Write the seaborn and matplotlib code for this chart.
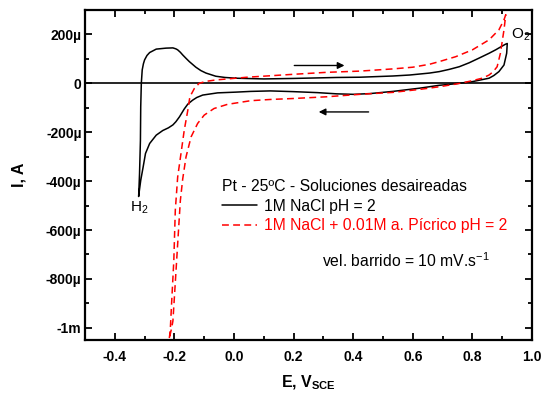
import numpy as np
import pandas as pd
import matplotlib
matplotlib.use("Agg")
import matplotlib.pyplot as plt
import seaborn as sns

# Cyclic voltammograms on Pt at 25 ºC: potential (V vs SCE) and current (µA)
e_nacl = [0.006, 0.1, 0.2, 0.345, 0.422, 0.533, 0.589, 0.656, 0.689, 0.722, 0.756, 0.789,
          0.822, 0.856, 0.878, 0.895, 0.911, 0.917,
          0.915, 0.906, 0.889, 0.872, 0.856, 0.8, 0.767, 0.733, 0.689, 0.622, 0.533, 0.456,
          0.40, 0.345, 0.28, 0.2, 0.122, 0.056, 0.006, -0.055, -0.105, -0.125, -0.139,
          -0.155, -0.167, -0.183, -0.195, -0.205, -0.22, -0.239, -0.261, -0.283, -0.297,
          -0.305, -0.313, -0.319, -0.320,
          -0.317, -0.314, -0.313, -0.311, -0.308, -0.304, -0.300, -0.292, -0.283, -0.261,
          -0.228, -0.205, -0.195, -0.189, -0.180, -0.172, -0.160, -0.150, -0.128, -0.111,
          -0.094, -0.061, -0.03, 0.006]
i_nacl = [21, 18, 20, 24, 25, 30, 34, 42, 48, 57, 68, 84,
          103, 123, 137, 149, 160, 163,
          123, 75, 48, 32, 21, 7, 2, -3, -8, -20, -33, -42,
          -45, -43, -38, -34, -31, -33, -36, -39, -48, -58, -69,
          -85, -105, -137, -157, -170, -182, -193, -212, -246, -287,
          -343, -397, -452, -463,
          -370, -233, -96, 0, 55, 80, 96, 114, 126, 140,
          144, 145, 141, 137, 127, 116, 101, 89, 66, 52,
          42, 29, 24, 21]

e_picrico = [-0.217, -0.214, -0.209, -0.202, -0.197, -0.189, -0.178, -0.167, -0.155, -0.148,
             -0.133, -0.117, -0.094, -0.06, -0.022, 0.044, 0.122, 0.2, 0.311, 0.422, 0.533,
             0.6, 0.656, 0.689, 0.744, 0.8, 0.856, 0.889, 0.906, 0.912,
             0.906, 0.9, 0.894, 0.883, 0.870, 0.856, 0.833, 0.8, 0.767, 0.744, 0.689, 0.622,
             0.533, 0.422, 0.311, 0.2, 0.122, 0.056, -0.022, -0.067, -0.1, -0.122, -0.144,
             -0.161, -0.172, -0.180, -0.189, -0.198, -0.205, -0.209, -0.217]
i_picrico = [-1042, -1013, -890, -726, -520, -383, -288, -192, -110, -55,
             -21, 0, 8, 14, 18, 25, 31, 37, 45, 50, 59,
             66, 78, 89, 109, 137, 178, 219, 260, 281,
             219, 171, 123, 68, 48, 34, 21, 11, 2, -3, -14, -25,
             -37, -45, -55, -62, -66, -71, -86, -103, -130, -164, -219,
             -301, -390, -479, -656, -835, -972, -1000, -1042]

label_nacl = "1M NaCl pH = 2"
label_picrico = "1M NaCl + 0.01M a. Pícrico pH = 2"
legend_title = "Pt - 25ºC - Soluciones desaireadas"

y_ticks = [-1e-3, -8e-4, -6e-4, -4e-4, -2e-4, 0.0, 2e-4]
y_tick_labels = ["-1m", "-800µ", "-600µ", "-400µ", "-200µ", "0", "200µ"]
x_ticks = [-0.4, -0.2, 0.0, 0.2, 0.4, 0.6, 0.8, 1.0]
x_tick_labels = ["-0.4", "-0.2", "0.0", "0.2", "0.4", "0.6", "0.8", "1.0"]

sns.set_theme(style="ticks")
plt.rcParams["font.family"] = ["Liberation Sans", "DejaVu Sans"]
plt.rcParams["text.color"] = "black"
plt.rcParams["axes.labelcolor"] = "black"
plt.rcParams["xtick.color"] = "black"
plt.rcParams["ytick.color"] = "black"
plt.rcParams["axes.unicode_minus"] = False
plt.rcParams["mathtext.fontset"] = "custom"
plt.rcParams["mathtext.rm"] = "Liberation Sans"
plt.rcParams["mathtext.it"] = "Liberation Sans"
plt.rcParams["mathtext.bf"] = "Liberation Sans:bold"
plt.rcParams["lines.solid_joinstyle"] = "round"
plt.rcParams["lines.dash_joinstyle"] = "round"

df_nacl = pd.DataFrame({"E": e_nacl, "I": np.array(i_nacl) * 1e-6})
df_pic = pd.DataFrame({"E": e_picrico, "I": np.array(i_picrico) * 1e-6})

fig = plt.figure(figsize=(5.47, 3.98), dpi=100)
ax = fig.add_axes([85 / 547, 1 - 340 / 398, 447 / 547, 330 / 398])

ax.axhline(0, color="black", lw=1.2, zorder=1)
sns.lineplot(data=df_nacl, x="E", y="I", sort=False, estimator=None, ax=ax,
             color="black", lw=1.1, label=label_nacl)
sns.lineplot(data=df_pic, x="E", y="I", sort=False, estimator=None, ax=ax,
             color="#ff0000", lw=1.1, linestyle=(0, (4.5, 2.8)), label=label_picrico)

ax.set_xlim(-0.5, 1.0)
ax.set_ylim(-1.05e-3, 3.0e-4)
ax.set_xticks(x_ticks)
ax.set_xticklabels(x_tick_labels)
ax.set_yticks(y_ticks)
ax.set_yticklabels(y_tick_labels)
ax.set_xticks(np.arange(-0.5, 1.01, 0.1), minor=True)
ax.set_yticks(np.arange(-1.0e-3, 3.01e-4, 1e-4), minor=True)
ax.tick_params(which="both", direction="in", top=True, right=True, color="black", width=1.3)
ax.tick_params(which="major", length=5, labelsize=10, labelcolor="black")
ax.tick_params(which="minor", length=3)
ax.tick_params(axis="y", which="major", pad=2.5)
ax.tick_params(axis="x", which="major", pad=7)
for lab in ax.get_xticklabels() + ax.get_yticklabels():
    lab.set_fontweight("bold")
for sp in ax.spines.values():
    sp.set_linewidth(1.6)
    sp.set_color("black")

ax.set_xlabel(r"E, V$_{\mathbf{SCE}}$", fontsize=11.5, fontweight="bold", labelpad=7,
              color="black")
ax.set_ylabel("I, A", fontsize=11.5, fontweight="bold", labelpad=14, color="black")

# sweep direction arrows
ax.annotate("", xy=(0.38, 7.3e-5), xytext=(0.193, 7.3e-5),
            arrowprops=dict(arrowstyle="-|>", color="black", lw=1.0, mutation_scale=10))
ax.annotate("", xy=(0.275, -1.17e-4), xytext=(0.461, -1.17e-4),
            arrowprops=dict(arrowstyle="-|>", color="black", lw=1.0, mutation_scale=10))

ax.text(0.93, 2.0e-4, r"O$_2$", fontsize=11, ha="left", va="center", color="black")
ax.text(-0.318, -5.1e-4, r"H$_2$", fontsize=11, ha="center", va="center", color="black")
ax.text(0.296, -7.26e-4, r"vel. barrido = 10 mV.s$^{-1}$", fontsize=11.3, ha="left",
        va="center", color="black")

leg = ax.legend(title=legend_title, loc="upper left", bbox_to_anchor=(0.2886, 0.512),
                frameon=False, fontsize=11.3, title_fontsize=11.3, labelcolor="linecolor",
                handlelength=2.23, handletextpad=0.43, borderpad=0, labelspacing=0.3,
                alignment="left")
leg.get_title().set_color("black")

fig.savefig("out.png", dpi=100, facecolor="white")
